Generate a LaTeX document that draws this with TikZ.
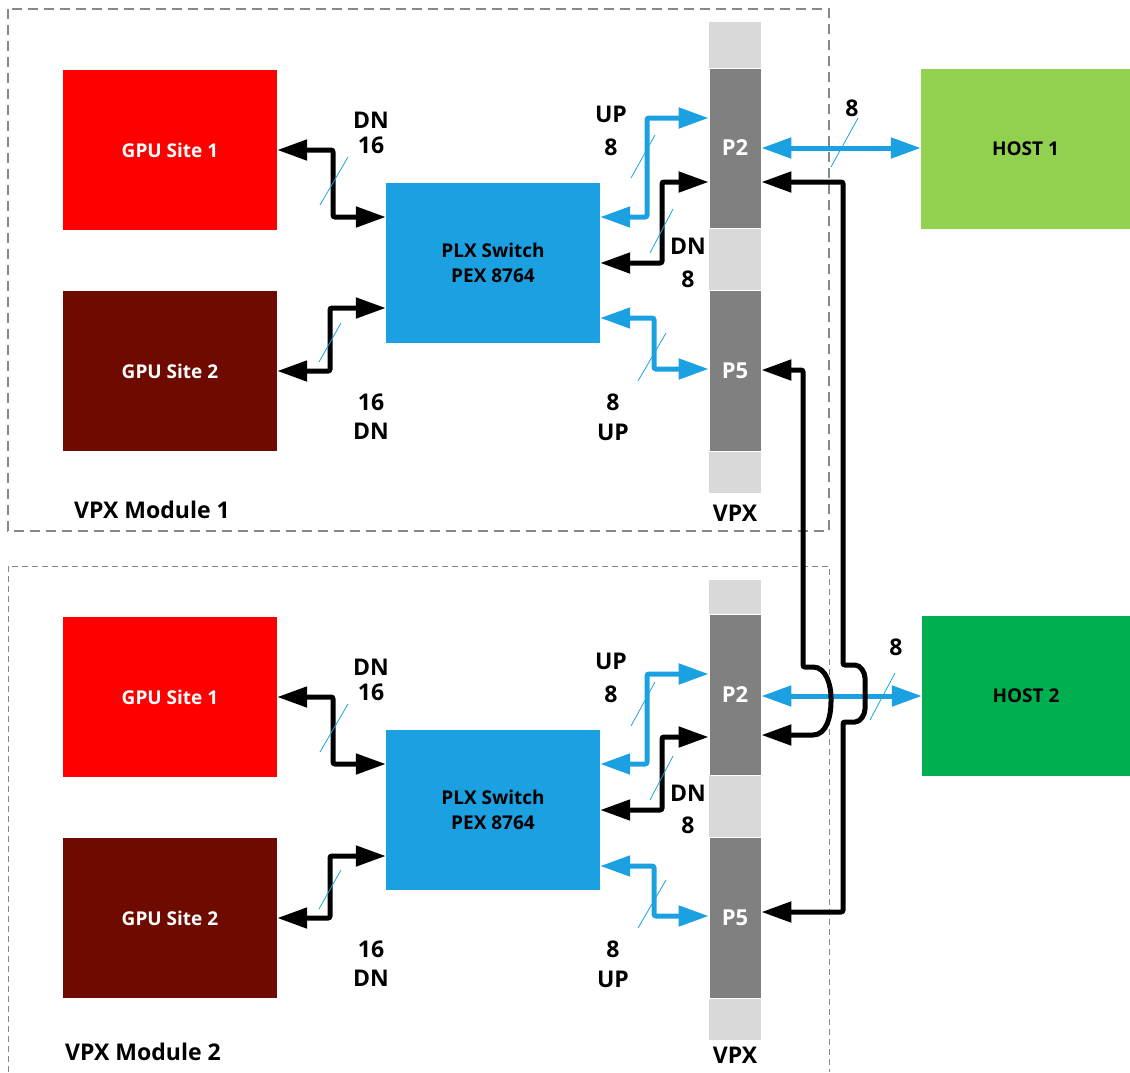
\documentclass[tikz,border=0pt]{standalone}
\usepackage{fontspec}
\setmainfont{Open Sans}
\usetikzlibrary{arrows.meta}
\definecolor{gpured}{RGB}{255,0,0}
\definecolor{gpudark}{RGB}{110,10,0}
\definecolor{plxblue}{RGB}{27,161,226}
\definecolor{vpxdark}{RGB}{128,128,128}
\definecolor{vpxlight}{RGB}{217,217,217}
\definecolor{hostone}{RGB}{146,208,80}
\definecolor{hosttwo}{RGB}{0,176,80}
\definecolor{dashgray}{RGB}{136,136,136}
\begin{document}
\begin{tikzpicture}[x=1pt,y=-1pt,
  font=\bfseries\fontsize{19}{21}\selectfont,
  box/.style={rectangle, minimum width=214pt, minimum height=160pt, inner sep=0pt, text=white},
  hostbox/.style={rectangle, minimum width=209pt, minimum height=160pt, inner sep=0pt, text=black},
  seg/.style={draw=white, line width=0.8pt, minimum width=52pt, inner sep=0pt, text=white,
    font=\bfseries\fontsize{22}{24}\selectfont},
  bconn/.style={draw=black, line width=5pt, rounded corners=2pt,
    {Triangle[length=30pt,width=20pt]}-{Triangle[length=30pt,width=20pt]}},
  uconn/.style={draw=plxblue, line width=5pt, rounded corners=2pt,
    {Triangle[length=30pt,width=20pt]}-{Triangle[length=30pt,width=20pt]}},
  slash/.style={draw=plxblue, line width=0.8pt},
  lbl/.style={inner sep=0pt, text=black, font=\bfseries\fontsize{23}{25}\selectfont}]
\useasboundingbox (0,0) rectangle (1130,1072);

% module frames
\draw[dashgray, line width=1.5pt, dash pattern=on 10pt off 6pt] (8,9) rectangle (829,531);
\draw[dashgray, line width=1pt, dash pattern=on 6pt off 4pt] (8,1072) -- (8,566) -- (829,566) -- (829,1072);

% ---------- Module 1 ----------
\node[box, fill=gpured] (g1a) at (170,150) {GPU Site 1};
\node[box, fill=gpudark] (g2a) at (170,371) {GPU Site 2};
\node[box, fill=plxblue, text=black, align=center] (plxa) at (493,263) {PLX Switch\\[4pt]PEX 8764};
\fill[vpxlight] (709,22) rectangle (761,68);
\node[seg, fill=vpxdark, minimum height=160pt] (p2a) at (735,148) {P2};
\fill[vpxlight] (709,228.5) rectangle (761,289.5);
\node[seg, fill=vpxdark, minimum height=161pt] (p5a) at (735,370.5) {P5};
\fill[vpxlight] (709,451.5) rectangle (761,493);
\node[lbl] (vpxa) at (735,513) {VPX};
\node[lbl] (moda) at (152,510) {VPX Module 1};

% ---------- Module 2 ----------
\node[box, fill=gpured] (g1b) at (170,697) {GPU Site 1};
\node[box, fill=gpudark] (g2b) at (170,918) {GPU Site 2};
\node[box, fill=plxblue, text=black, align=center] (plxb) at (493,810) {PLX Switch\\[4pt]PEX 8764};
\fill[vpxlight] (709,580) rectangle (761,614);
\node[seg, fill=vpxdark, minimum height=161pt] (p2b) at (735,694.5) {P2};
\fill[vpxlight] (709,775.5) rectangle (761,836.5);
\node[seg, fill=vpxdark, minimum height=161pt] (p5b) at (735,917.5) {P5};
\fill[vpxlight] (709,998.5) rectangle (761,1040);
\node[lbl] (vpxb) at (735,1055) {VPX};
\node[lbl] (modb) at (143,1052) {VPX Module 2};

% hosts
\node[hostbox, fill=hostone] (h1) at (1025.5,149) {HOST 1};
\node[hostbox, fill=hosttwo, minimum width=208pt] (h2) at (1026,696) {HOST 2};

% ---------- labels module 1 ----------
\node[lbl] at (371,120) {DN};
\node[lbl] at (371,145) {16};
\node[lbl] at (371,402) {16};
\node[lbl] at (371,431) {DN};
\node[lbl] at (611,114) {UP};
\node[lbl] at (611,147) {8};
\node[lbl] at (688,246) {DN};
\node[lbl] at (688,279) {8};
\node[lbl] at (613,402) {8};
\node[lbl] at (613,432) {UP};
\node[lbl] at (852,108) {8};
% ---------- labels module 2 ----------
\node[lbl] at (371,667) {DN};
\node[lbl] at (371,692) {16};
\node[lbl] at (371,949) {16};
\node[lbl] at (371,978) {DN};
\node[lbl] at (611,661) {UP};
\node[lbl] at (611,694) {8};
\node[lbl] at (688,793) {DN};
\node[lbl] at (688,825) {8};
\node[lbl] at (613,949) {8};
\node[lbl] at (613,979) {UP};
\node[lbl] at (896,647) {8};

% ---------- connectors module 1 ----------
\draw[bconn] (g1a.east) -| (333,217) -- (plxa.west |- 0,217);
\draw[bconn] (g2a.east |- 0,371) -| (330,308) -- (plxa.west |- 0,308);
\draw[uconn] (plxa.east |- 0,217) -| (647,118) -- (p2a.west |- 0,118);
\draw[bconn] (plxa.east |- 0,263) -| (662,182) -- (p2a.west |- 0,182);
\draw[uconn] (plxa.east |- 0,318) -| (654,369) -- (p5a.west |- 0,369);
\draw[uconn] (p2a.east |- 0,148) -- (h1.west |- 0,148);

\draw[slash] (320,205) -- (348,157);
\draw[slash] (319,362) -- (341,323);
\draw[slash] (631,178) -- (655,135);
\draw[slash] (650,253) -- (673,209);
\draw[slash] (638,381) -- (666,333);
\draw[slash] (831,167) -- (858,118);

% ---------- connectors module 2 ----------
\draw[bconn] (g1b.east) -| (333,764) -- (plxb.west |- 0,764);
\draw[bconn] (g2b.east) -| (330,856) -- (plxb.west |- 0,856);
\draw[uconn] (plxb.east |- 0,764) -| (647,674) -- (p2b.west |- 0,674);
\draw[bconn] (plxb.east |- 0,810) -| (662,737) -- (p2b.west |- 0,737);
\draw[uconn] (plxb.east |- 0,866) -| (654,916) -- (p5b.west |- 0,916);
\draw[uconn] (p2b.east |- 0,696) -- (h2.west |- 0,696);

\draw[slash] (320,752) -- (348,704);
\draw[slash] (319,909) -- (341,870);
\draw[slash] (631,726) -- (655,682);
\draw[slash] (650,800) -- (673,756);
\draw[slash] (638,928) -- (666,880);
\draw[slash] (870,720) -- (895,673);

% ---------- inter-module connectors ----------
\draw[bconn] (p2a.east |- 0,182) -- (843,182) -- (843,665) -- (853,665)
  to[out=0,in=90] (865,680) -- (865,707) to[out=-90,in=0] (853,722)
  -- (843,722) -- (843,912) -- (p5b.east |- 0,912);
\draw[bconn] (p5a.east |- 0,370) -- (803,370) -- (803,667) -- (811,667)
  to[out=0,in=90] (831,700) to[out=-90,in=0] (811,735) -- (p2b.east |- 0,735);
\end{tikzpicture}
\end{document}
